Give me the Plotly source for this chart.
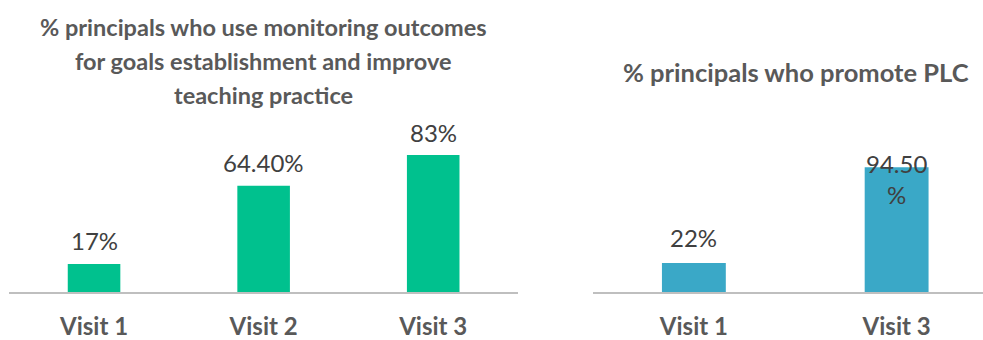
import plotly.graph_objects as go

# Panel 1: monitoring outcomes used for goal setting
visits_left = ["Visit 1", "Visit 2", "Visit 3"]
values_left = [17, 64.4, 83]
labels_left = ["17%", "64.40%", "83%"]
title_left = [
    "% principals who use monitoring outcomes",
    "for goals establishment and improve",
    "teaching practice",
]

# Panel 2: professional learning communities
visits_right = ["Visit 1", "Visit 3"]
values_right = [22, 94.5]
labels_right = ["22%", "94.50<br>%"]
title_right = "% principals who promote PLC"

GREEN = "#00C18E"
BLUE = "#3AA8C7"
TITLE_GREY = "#595959"
LABEL_GREY = "#404040"
AXIS_GREY = "#BFBFBF"
FONT = "Lato"

W, H = 983, 340

fig = go.Figure()
fig.add_trace(go.Bar(x=visits_left, y=values_left, marker_color=GREEN,
                     marker_line_width=0, width=0.31, xaxis="x", yaxis="y",
                     hoverinfo="skip"))
fig.add_trace(go.Bar(x=visits_right, y=values_right, marker_color=BLUE,
                     marker_line_width=0, width=0.315, xaxis="x2", yaxis="y2",
                     hoverinfo="skip"))

annotations = []
for v, val, lab in zip(visits_left, values_left, labels_left):
    annotations.append(dict(x=v, y=val, xref="x", yref="y", text=lab,
                            showarrow=False, yanchor="middle", yshift=23,
                            font=dict(family=FONT, size=24, color=LABEL_GREY)))
for v, val, lab in zip(visits_right, values_right, labels_right):
    two_line = "<br>" in lab
    annotations.append(dict(x=v, y=val, xref="x2", yref="y2", text=lab,
                            showarrow=False, yanchor="middle",
                            yshift=-12 if two_line else 25,
                            font=dict(family=FONT, size=24, color=LABEL_GREY)))

# Titles, one line per annotation to control line spacing
left_center = (9.25 + 518) / 2 / W
for i, line in enumerate(title_left):
    y_px = 27 + i * 34
    annotations.append(dict(x=left_center, y=1 - y_px / H, xref="paper", yref="paper",
                            text=f"<b>{line}</b>", showarrow=False,
                            xanchor="center", yanchor="middle",
                            font=dict(family=FONT, size=23.5, color=TITLE_GREY)))
annotations.append(dict(x=796 / W, y=1 - 72 / H, xref="paper", yref="paper",
                        text=f"<b>{title_right}</b>", showarrow=False,
                        xanchor="center", yanchor="middle",
                        font=dict(family=FONT, size=25.5, color=TITLE_GREY)))

base = 1 - 292 / H
tick_font = dict(family=FONT, size=24, color=TITLE_GREY)
x_common = dict(showline=True, linecolor=AXIS_GREY, linewidth=1.5,
                ticks="outside", ticklen=12, tickcolor="rgba(0,0,0,0)",
                tickfont=tick_font, showgrid=False, zeroline=False,
                tickprefix="<b>", ticksuffix="</b>", automargin=False)

fig.update_layout(
    width=W, height=H,
    margin=dict(l=0, r=0, t=0, b=0),
    paper_bgcolor="white", plot_bgcolor="white",
    showlegend=False,
    annotations=annotations,
    xaxis=dict(domain=[9.25 / W, 518 / W], range=[-0.5, 2.5], anchor="y",
               **x_common),
    yaxis=dict(domain=[base, base + 165 / H], range=[0, 100], visible=False,
               anchor="x", automargin=False),
    xaxis2=dict(domain=[592.5 / W, 1.0], range=[-0.5, 1.426], anchor="y2",
                **x_common),
    yaxis2=dict(domain=[base, base + 132 / H], range=[0, 100], visible=False,
                anchor="x2", automargin=False),
)

fig.write_html("out.html")
